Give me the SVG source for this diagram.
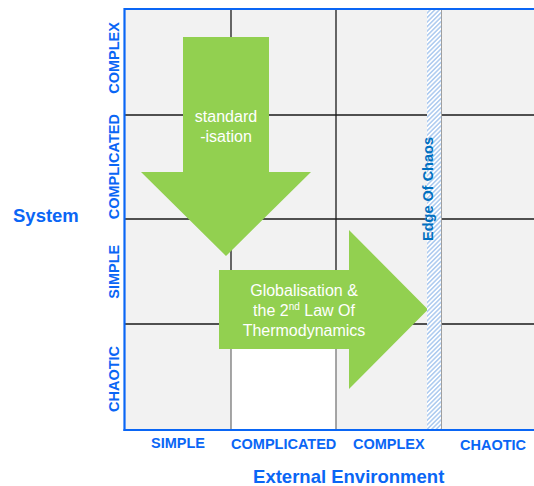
<svg xmlns="http://www.w3.org/2000/svg" width="534" height="486" viewBox="0 0 534 486">
  <defs>
    <pattern id="hatch" patternUnits="userSpaceOnUse" width="3.2" height="3.2" patternTransform="rotate(45)">
      <rect width="3.2" height="3.2" fill="#ffffff"/>
      <line x1="0.8" y1="0" x2="0.8" y2="3.2" stroke="#a6c6ee" stroke-width="1.4"/>
    </pattern>
    <style>
      .cell { fill: #f2f2f2; }
      .grid { stroke: #1a1a1a; stroke-width: 1.3; fill: none; }
      .gridlow { stroke: #777777; stroke-width: 1.3; fill: none; }
      .axis { stroke: #0a66f5; stroke-width: 2.2; fill: none; }
      .lbl { font-family: "Liberation Sans", Arial, sans-serif; font-weight: bold; fill: #0a66f5; font-size: 14.5px; text-anchor: middle; }
      .title { font-family: "Liberation Sans", Arial, sans-serif; font-weight: bold; fill: #0a66f5; font-size: 18.5px; }
      .arrow { fill: #92d050; }
      .atext { font-family: "Liberation Sans", Arial, sans-serif; fill: #ffffff; font-size: 16px; text-anchor: middle; }
      .eoc { font-family: "Liberation Sans", Arial, sans-serif; font-weight: bold; fill: #0070c0; font-size: 14.5px; text-anchor: middle; }
    </style>
  </defs>

  <g id="matrix">
    <rect class="cell" x="125" y="9" width="409" height="421"/>
    <rect x="231" y="324" width="105" height="106" fill="#ffffff"/>
    <line class="grid" x1="125" y1="115" x2="534" y2="115"/>
    <line class="grid" x1="125" y1="219" x2="534" y2="219"/>
    <line class="grid" x1="125" y1="324" x2="534" y2="324"/>
    <line class="grid" x1="231" y1="9" x2="231" y2="324"/>
    <line class="grid" x1="336" y1="9" x2="336" y2="324"/>
    <line class="gridlow" x1="231" y1="324" x2="231" y2="430"/>
    <line class="gridlow" x1="336" y1="324" x2="336" y2="430"/>
  </g>

  <g id="connectors">
    <g id="arrow-standardisation">
      <polygon class="arrow" points="183,37 269,37 269,172 311,172 226,256 141,172 183,172"/>
      <text class="atext" x="226" y="122">standard</text>
      <text class="atext" x="226" y="142">-isation</text>
    </g>
    <g id="arrow-globalisation">
      <polygon class="arrow" points="219,270 349,270 349,230 428,309.5 349,389 349,349 219,349"/>
      <text class="atext" x="304" y="296">Globalisation &amp;</text>
      <text class="atext" x="304" y="316">the 2<tspan font-size="10px" dy="-6">nd</tspan><tspan dy="6"> Law Of</tspan></text>
      <text class="atext" x="304" y="336">Thermodynamics</text>
    </g>
  </g>

  <g id="edge-of-chaos">
    <rect x="427" y="9" width="14.5" height="421" fill="url(#hatch)"/>
    <line x1="441.5" y1="9" x2="441.5" y2="430" stroke="#a0a0a0" stroke-width="1"/>
    <text class="eoc" transform="translate(432.5,189) rotate(-90)">Edge Of Chaos</text>
  </g>

  <g id="axes">
    <line class="axis" x1="124.5" y1="9" x2="534" y2="9"/>
    <line class="axis" x1="124.5" y1="8" x2="124.5" y2="431"/>
    <line class="axis" x1="123.5" y1="430" x2="534" y2="430"/>
  </g>

  <g id="system-labels">
    <text class="lbl" transform="translate(118.5,58) rotate(-90)">COMPLEX</text>
    <text class="lbl" transform="translate(118.5,166.7) rotate(-90)">COMPLICATED</text>
    <text class="lbl" transform="translate(118.5,271.7) rotate(-90)">SIMPLE</text>
    <text class="lbl" transform="translate(118.5,379) rotate(-90)">CHAOTIC</text>
    <text id="system-title" class="title" x="13" y="222">System</text>
  </g>

  <g id="environment-labels">
    <text class="lbl" x="178" y="448">SIMPLE</text>
    <text class="lbl" x="283.7" y="449">COMPLICATED</text>
    <text class="lbl" x="388.8" y="449">COMPLEX</text>
    <text class="lbl" x="493" y="450">CHAOTIC</text>
    <text id="environment-title" class="title" x="348.7" y="483" text-anchor="middle">External Environment</text>
  </g>
</svg>
